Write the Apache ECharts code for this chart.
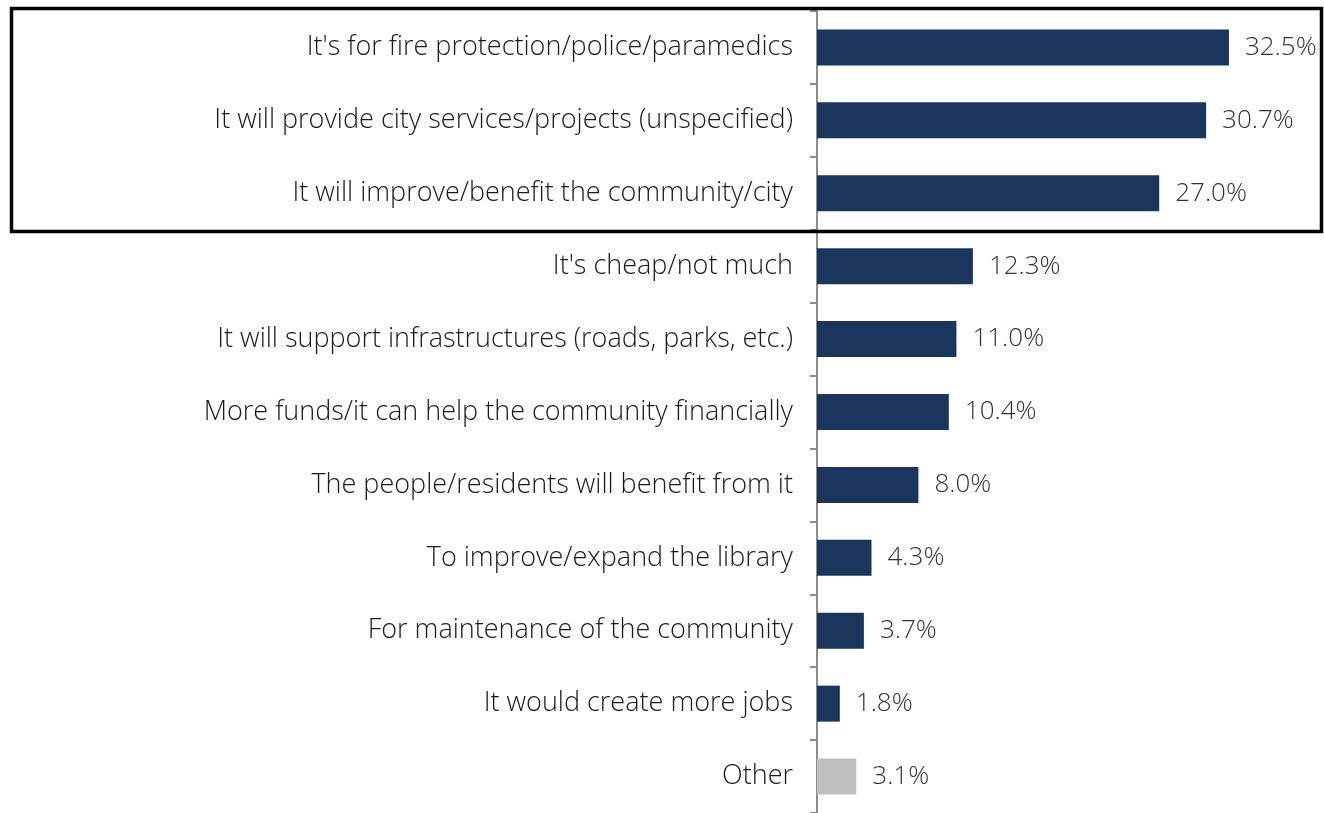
<!DOCTYPE html>
<html><head><meta charset="utf-8">
<script src="https://cdn.jsdelivr.net/npm/echarts@6/dist/echarts.min.js"></script>
<style>html,body{margin:0;padding:0;background:#fff}#c{width:1324px;height:813px}</style>
</head><body><div id="c"></div>
<script>
const categories = [
  "It's for fire protection/police/paramedics",
  "It will provide city services/projects (unspecified)",
  "It will improve/benefit the community/city",
  "It's cheap/not much",
  "It will support infrastructures (roads, parks, etc.)",
  "More funds/it can help the community financially",
  "The people/residents will benefit from it",
  "To improve/expand the library",
  "For maintenance of the community",
  "It would create more jobs",
  "Other"
];
const values = [32.5, 30.7, 27.0, 12.3, 11.0, 10.4, 8.0, 4.3, 3.7, 1.8, 3.1];
const otherCategory = "Other";

const FONT = "Open Sans";
const chart = echarts.init(document.getElementById('c'), null, {renderer:'canvas'});
chart.setOption({
  animation:false,
  grid:{left:817, top:11, width:508, height:803, containLabel:false},
  xAxis:{type:'value', min:0, max:40, show:false, splitLine:{show:false}},
  yAxis:{type:'category', data:categories, inverse:true,
    axisLine:{show:true, lineStyle:{color:'#8c8c8c', width:2}},
    axisTick:{show:true, length:7, lineStyle:{color:'#8c8c8c', width:2}},
    axisLabel:{margin:24, fontFamily:FONT, fontWeight:300, fontSize:27, color:'#1a1a1a'}
  },
  series:[{type:'bar', barWidth:36,
    data:values.map((v,i)=>({value:v, itemStyle:{color: categories[i]===otherCategory ? '#bfbfbf' : '#1b365d'}})),
    label:{show:true, position:'right', distance:16, fontFamily:FONT, fontWeight:300, fontSize:26, color:'#333333',
      formatter:p=>p.value.toFixed(1)+'%'}
  }],
  graphic:[{type:'rect', shape:{x:11.5, y:8.5, width:1310, height:223},
    style:{fill:'none', stroke:'#000', lineWidth:3.5}, z:100}]
});
</script></body></html>
